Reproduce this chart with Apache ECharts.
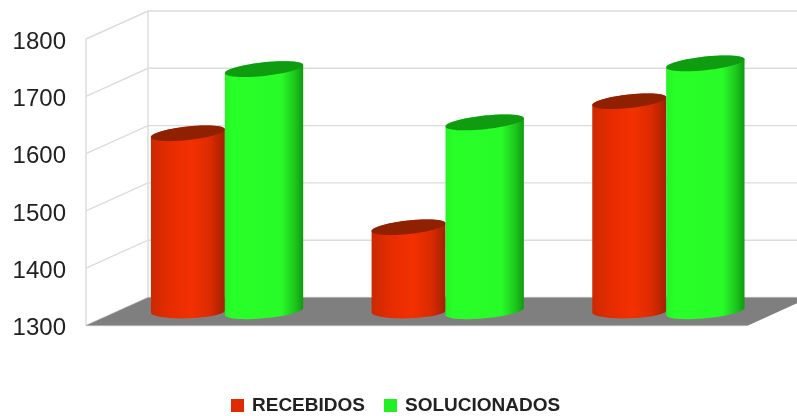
<!DOCTYPE html>
<html><head><meta charset="utf-8">
<style>html,body{margin:0;padding:0;background:#fff}#c{width:797px;height:416px}</style>
<script src="https://cdn.jsdelivr.net/npm/echarts@6/dist/echarts.min.js"></script>
</head><body><div id="c"></div>
<script>
const categories = ['1', '2', '3'];
const recebidos = [1611, 1447, 1667];
const solucionados = [1723, 1630, 1733];
const yTicks = [1300, 1400, 1500, 1600, 1700, 1800];

const DEPTH_X = 62, DEPTH_Y = 28;      // 3D box depth
const MID_X = 0.46, MID_Y = 0.5;       // cylinder position inside the depth

function ring(cx, cy, a, b, k, t0, t1) {
  const pts = [];
  for (let i = 0; i <= 48; i++) {
    const t = t0 + (t1 - t0) * i / 48;
    pts.push([cx + a * Math.cos(t), cy + b * Math.sin(t) - k * a * Math.cos(t)]);
  }
  return pts;
}
function cylinder(side, cap, widthFrac, dir, kBase) {
  return function (params, api) {
    const band = api.size([1, 0])[0];
    const idx = api.value(0), v = api.value(1);
    const top = api.coord([idx, v]), base = api.coord([idx, 1300]);
    const a = band * widthFrac / 2;
    const join = top[0] + DEPTH_X * MID_X;
    const cx = join + dir * a;
    const yt = top[1] - DEPTH_Y * MID_Y, yb = base[1] - DEPTH_Y * MID_Y;
    const b = 6.8, k = 0.105;
    const body = ring(cx, yb, a, b, kBase, 0, Math.PI).concat(ring(cx, yt, a, b, k, Math.PI, 2 * Math.PI));
    return { type: 'group', children: [
      { type: 'polygon', shape: { points: body }, style: { fill: side } },
      { type: 'polygon', shape: { points: ring(cx, yt, a, b, k, 0, 2 * Math.PI) }, style: { fill: cap } }
    ]};
  };
}
const grad = stops => new echarts.graphic.LinearGradient(0, 0, 1, 0, stops.map(s => ({ offset: s[0], color: s[1] })));
const redSide = grad([[0, '#cc2900'], [0.25, '#e62c00'], [0.55, '#f33000'], [0.8, '#dc2b00'], [1, '#a32100']]);
const greenSide = grad([[0, '#26f226'], [0.1, '#28ff28'], [0.72, '#28fb28'], [0.9, '#1cc41c'], [1, '#109a10']]);

function frame(params, api) {
  const cs = params.coordSys, p = api.coord([0, api.value(0)]);
  const x0 = cs.x, x1 = cs.x + cs.width, y = p[1];
  const line = { stroke: '#dcdcdc', lineWidth: 1.4, fill: null };
  const children = [
    { type: 'polyline', shape: { points: [[x0, y], [x0 + DEPTH_X, y - DEPTH_Y], [x1 + DEPTH_X, y - DEPTH_Y]] }, style: line }
  ];
  if (params.dataIndex === 0) {
    const yTop = cs.y;
    children.push(
      { type: 'polyline', shape: { points: [[x0, yTop], [x0, y], [x1, y]] }, style: line },
      { type: 'line', shape: { x1: x0 + DEPTH_X, y1: yTop - DEPTH_Y, x2: x0 + DEPTH_X, y2: y - DEPTH_Y }, style: line },
      { type: 'polygon', shape: { points: [[x0, y], [x1, y], [x1 + DEPTH_X, y - DEPTH_Y], [x0 + DEPTH_X, y - DEPTH_Y]] }, style: { fill: '#7f7f7f' }, z2: 5 }
    );
  }
  return { type: 'group', children };
}

const chart = echarts.init(document.getElementById('c'), null, { renderer: 'canvas' });
chart.setOption({
  animation: false,
  backgroundColor: '#fff',
  grid: { left: 86, right: 49, top: 39, height: 286.5 },
  xAxis: { type: 'category', data: categories, show: false },
  yAxis: {
    type: 'value', min: 1300, max: 1800, interval: 100,
    axisLine: { show: false }, axisTick: { show: false }, splitLine: { show: false },
    axisLabel: { margin: 20, formatter: v => '{a|' + v + '}',
      rich: { a: { fontFamily: 'Liberation Sans', fontSize: 24, color: '#222', padding: [6, 0, 0, 0] } } }
  },
  legend: {
    data: ['RECEBIDOS', 'SOLUCIONADOS'], left: 226, top: 391, icon: 'rect',
    itemWidth: 13, itemHeight: 13, itemGap: 19,
    textStyle: { fontFamily: 'Liberation Sans', fontWeight: 'bold', fontSize: 19, color: '#222', padding: [0, 0, 0, 3] }
  },
  series: [
    { type: 'custom', name: 'frame', z: 1, silent: true, data: yTicks.map(t => [t]),
      encode: { y: 0 }, renderItem: frame },
    { type: 'custom', name: 'RECEBIDOS', z: 2, itemStyle: { color: '#e02a00' },
      data: recebidos.map((v, i) => [i, v]), encode: { x: 0, y: 1 },
      renderItem: cylinder(redSide, '#8f2000', 0.335, -1, 0.03) },
    { type: 'custom', name: 'SOLUCIONADOS', z: 3, itemStyle: { color: '#22f022' },
      data: solucionados.map((v, i) => [i, v]), encode: { x: 0, y: 1 },
      renderItem: cylinder(greenSide, '#109c10', 0.355, 1, 0.09) }
  ]
});
</script></body></html>
